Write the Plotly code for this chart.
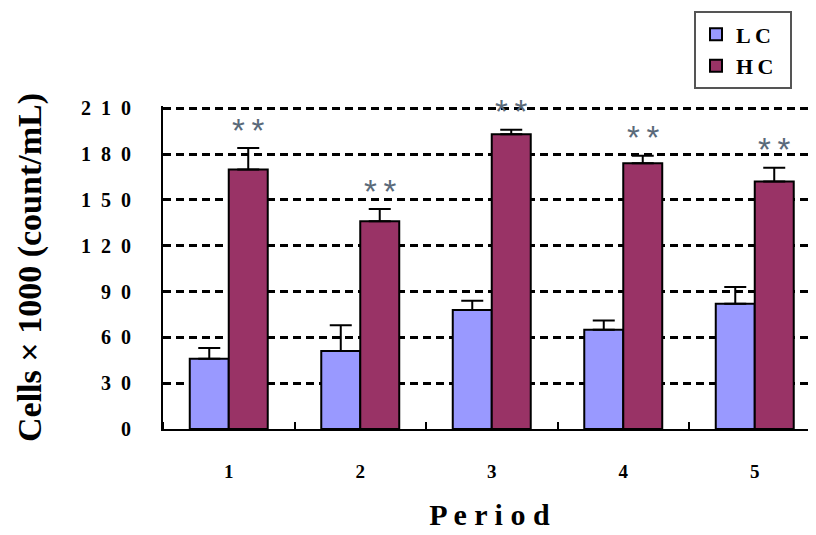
import plotly.graph_objects as go

periods = ["1", "2", "3", "4", "5"]
lc_values = [46, 51, 78, 65, 82]
lc_errors = [7, 17, 6, 6, 11]
hc_values = [170, 136, 193, 174, 162]
hc_errors = [14, 8, 3, 5, 9]
significance = ["*\u2009*"] * 5
y_ticks = [0, 30, 60, 90, 120, 150, 180, 210]

x_pos = list(range(1, len(periods) + 1))
SERIF = "Liberation Serif, Times New Roman, serif"

fig = go.Figure()
fig.add_trace(go.Bar(
    x=x_pos, y=lc_values, name="L\u2009C\u2002", legendgroup="lc",
    marker=dict(color="#9999FF", line=dict(color="black", width=2)),
    error_y=dict(type="data", array=lc_errors, arrayminus=[0] * len(lc_errors),
                 symmetric=False, color="black", thickness=2, width=11),
))
fig.add_trace(go.Bar(
    x=x_pos, y=hc_values, name="H\u2009C\u2002", legendgroup="hc",
    marker=dict(color="#993366", line=dict(color="black", width=2)),
    error_y=dict(type="data", array=hc_errors, arrayminus=[0] * len(hc_errors),
                 symmetric=False, color="black", thickness=2, width=11),
))

for i, s in enumerate(significance):
    fig.add_annotation(
        x=x_pos[i] + 0.148, y=hc_values[i] + hc_errors[i], text=s,
        showarrow=False, yanchor="middle", yshift=18,
        font=dict(family="Liberation Sans, Arial, sans-serif", size=33, color="#5a6a7a"),
    )

# page body has an 8px margin, so figure coordinates are offset by 8px
W, H = 808, 527
plot_left, plot_bottom = 155, 421
px_per_unit = 321 / 210
y_top = 211.5
plot_top = plot_bottom - y_top * px_per_unit
plot_w = W - plot_left

en = "\u2002"
fig.update_layout(
    width=W, height=H,
    margin=dict(l=plot_left, r=0, t=plot_top, b=H - plot_bottom, autoexpand=False),
    paper_bgcolor="white", plot_bgcolor="white",
    barmode="group", bargap=0.407, bargroupgap=0,
    showlegend=True,
    legend=dict(
        x=(686 - plot_left) / plot_w, y=(plot_bottom - 3) / (plot_bottom - plot_top),
        xanchor="left", yanchor="top",
        bgcolor="white", bordercolor="#555555", borderwidth=2,
        font=dict(family=SERIF, size=22, color="black", weight="bold"),
        tracegroupgap=0,
    ),
    xaxis=dict(
        range=[0.5, 0.5 + plot_w / 131.5], automargin=False,
        tickvals=x_pos, ticktext=periods, ticks="",
        showline=True, linecolor="black", linewidth=2,
        showgrid=False, zeroline=False,
        ticklabelstandoff=24,
        tickfont=dict(family=SERIF, size=19, color="black", weight="bold"),
        minor=dict(tick0=0.5, dtick=1, ticks="inside", ticklen=7, tickwidth=2,
                   tickcolor="black", showgrid=False),
        title=dict(text="P e r i o d", standoff=23,
                   font=dict(family=SERIF, size=30, color="black", weight="bold")),
    ),
    yaxis=dict(
        range=[0, y_top], automargin=False,
        tickvals=y_ticks, ticktext=[en.join(str(v)) for v in y_ticks], ticks="",
        showline=True, linecolor="black", linewidth=2,
        showgrid=True, gridcolor="black", gridwidth=2.5, griddash="8px,5px",
        zeroline=False,
        ticklabelstandoff=26,
        tickfont=dict(family=SERIF, size=20, color="black", weight="bold"),
        title=dict(text="Cells × 1000 (count/mL)", standoff=29,
                   font=dict(family=SERIF, size=34, color="black", weight="bold")),
    ),
)

fig.write_html("out.html")
